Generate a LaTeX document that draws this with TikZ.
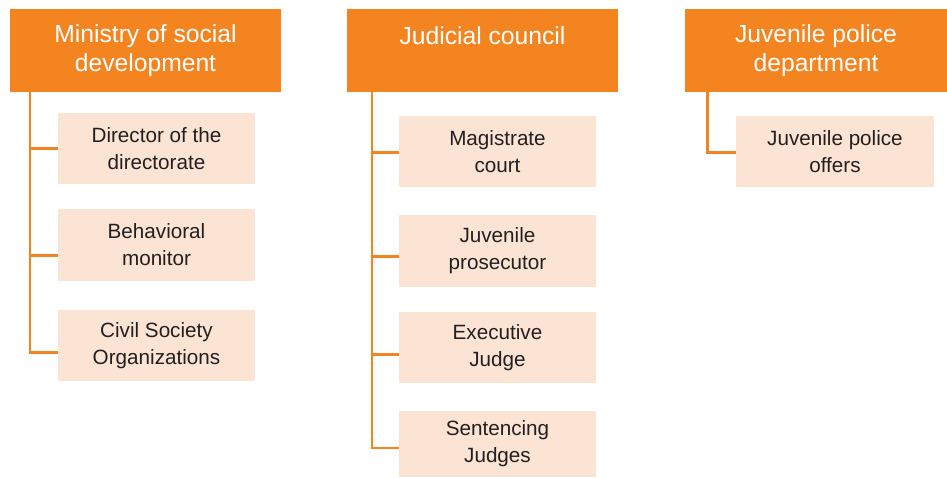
\documentclass[tikz,border=0pt]{standalone}
\usepackage{fontspec}
\setmainfont{Liberation Sans}
\usetikzlibrary{calc}

\definecolor{deptorange}{HTML}{F3841F}
\definecolor{unitfill}{HTML}{FCE4D4}
\definecolor{unittext}{HTML}{231F20}

\begin{document}
\begin{tikzpicture}[x = 0.75pt, y = -0.75pt,
  dept/.style = {fill = deptorange, text = white, minimum width = 203pt, minimum height = 62pt,
    align = center, font = \fontsize{18.5}{21.75}\selectfont, inner sep = 0pt},
  unit/.style = {fill = unitfill, text = unittext, minimum width = 148pt, minimum height = 53.5pt,
    align = center, font = \fontsize{15.5}{20.25}\selectfont, inner sep = 0pt},
  branch/.style = {draw = deptorange, line width = 2pt}]
\useasboundingbox (0,0) rectangle (947,478);
% top row
\node[dept] (msd) at (145.5,50.5) {Ministry of social\\development};
\node[dept] (jc) at (482.5,50.5) {Judicial council\\~};
\node[dept, minimum width = 196.5pt] (jpd) at (816,50.5) {Juvenile police\\department};
% units under the ministry
\node[unit] (dir) at (156.5,148.5) {Director of the\\directorate};
\node[unit] (beh) at (156.5,245) {Behavioral\\monitor};
\node[unit] (cso) at (156.5,345.5) {Civil Society\\Organizations};
% units under the council
\node[unit] (mag) at (497.5,151.5) {Magistrate\\court};
\node[unit] (pros) at (497.5,251) {Juvenile\\prosecutor};
\node[unit] (exe) at (497.5,347.5) {Executive\\Judge};
\node[unit, minimum height = 49.5pt] (sent) at (497.5,444) {Sentencing\\Judges};
% unit under the police
\node[unit] (off) at (835,151.5) {Juvenile police\\offers};
% connectors (\d = drop of the branch below the box middle)
\foreach \u/\d in {dir/0, beh/-8, cso/-5}
  \draw[branch] ([xshift = 15pt]msd.south west) |- ([yshift = \d pt]\u.west);
\foreach \u/\d in {mag/-1, pros/-4, exe/-5, sent/-3}
  \draw[branch] ([xshift = 18.75pt]jc.south west) |- ([yshift = \d pt]\u.west);
\draw[branch] ([xshift = 17.25pt]jpd.south west) |- ([yshift = -1pt]off.west);
\end{tikzpicture}
\end{document}
